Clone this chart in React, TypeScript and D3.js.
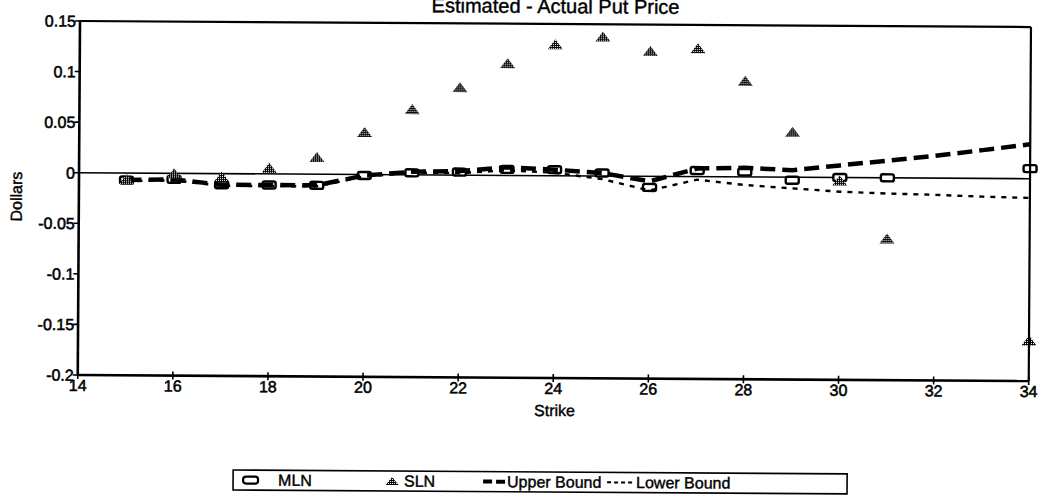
import React from "react";
import * as d3 from "d3";

// ---- Data ----
const boundStrikes = [15, 16, 17, 18, 19, 20, 21, 22, 23, 24, 25, 26, 27, 28, 29, 30, 31, 32, 33, 34];
const upperBound = [-0.007, -0.006, -0.011, -0.011, -0.011, -0.001, 0.003, 0.004, 0.008, 0.006, 0.003, -0.005, 0.008, 0.009, 0.007, 0.012, 0.017, 0.022, 0.028, 0.034];
const lowerBound = [-0.008, -0.007, -0.012, -0.012, -0.012, -0.002, 0.002, 0.002, 0.005, 0.003, -0.003, -0.014, -0.003, -0.008, -0.011, -0.014, -0.0155, -0.0165, -0.018, -0.019];

const pointStrikes = [15, 16, 17, 18, 19, 20, 21, 22, 23, 24, 25, 26, 27, 28, 29, 30, 31, 34];
const mlnValues = [-0.007, -0.006, -0.011, -0.011, -0.011, -0.001, 0.002, 0.003, 0.006, 0.006, 0.003, -0.011, 0.006, 0.005, -0.003, 0.0, 0.0, 0.010];
const slnValues = [-0.006, 0.0, -0.003, 0.006, 0.017, 0.042, 0.065, 0.087, 0.111, 0.13, 0.138, 0.124, 0.127, 0.095, 0.045, -0.003, -0.06, -0.16];

const yTicks = [0.15, 0.1, 0.05, 0, -0.05, -0.1, -0.15, -0.2];
const yTickLabels = ["0.15", "0.1", "0.05", "0", "-0.05", "-0.1", "-0.15", "-0.2"];
const xTicks = [14, 16, 18, 20, 22, 24, 26, 28, 30, 32, 34];

const title = "Estimated - Actual Put Price";
const xTitle = "Strike";
const yTitle = "Dollars";
const legendLabels = ["MLN", "SLN", "Upper Bound", "Lower Bound"];

const W = 1057;
const H = 504;
const FONT = "'Liberation Sans', Arial, Helvetica, sans-serif";

export default function App() {
  const left = 80, right = 1031, top = 21, bottom = 375;
  const x = d3.scaleLinear().domain([14, 34]).range([left, right]);
  const y = d3.scaleLinear().domain([-0.2, 0.15]).range([bottom, top]);

  const line = d3
    .line<[number, number]>()
    .x((d) => x(d[0]))
    .y((d) => y(d[1]));

  const upperPts = boundStrikes.map((s, i) => [s, upperBound[i]] as [number, number]);
  const lowerPts = boundStrikes.map((s, i) => [s, lowerBound[i]] as [number, number]);

  const triPath = (cx: number, cy: number, w = 15, h = 10) =>
    `M${cx - w / 2},${cy + h / 2} L${cx},${cy - h / 2} L${cx + w / 2},${cy + h / 2} Z`;

  const textStyle = { fontFamily: FONT, fill: "#000", stroke: "#000", strokeWidth: 0.55 } as const;
  const legStyle = { fontFamily: FONT, fill: "#000", stroke: "#000", strokeWidth: 0.4 } as const;

  const legY = 479;

  return (
    <svg
      width={W}
      height={H}
      viewBox={`0 0 ${W} ${H}`}
      style={{ position: "absolute", left: 0, top: 0, background: "#fff" }}
    >
      <defs>
        <pattern id="dither" patternUnits="userSpaceOnUse" width="2" height="2">
          <rect x="0" y="0" width="2" height="2" fill="#000" />
          <rect x="1" y="1" width="1" height="1" fill="#fff" />
        </pattern>
      </defs>
      <rect x={0} y={0} width={W} height={H} fill="#fff" />
      <g transform="rotate(0.363 80 20)">
        {/* Title */}
        <text x={(left + right) / 2} y={10} textAnchor="middle" fontSize={20} style={legStyle}>
          {title}
        </text>

        {/* Zero line */}
        <line x1={left} x2={right} y1={y(0)} y2={y(0)} stroke="#000" strokeWidth={1.6} />

        {/* MLN markers */}
        {pointStrikes.map((s, i) => (
          <rect
            key={"mln" + i}
            x={x(s) - 6.5}
            y={y(mlnValues[i]) - 3.5}
            width={13}
            height={7}
            rx={2}
            fill="#fff"
            stroke="#000"
            strokeWidth={2.4}
          />
        ))}

        {/* Upper bound */}
        <path
          d={line(upperPts) || ""}
          fill="none"
          stroke="#000"
          strokeWidth={4.5}
          strokeDasharray="15,7"
        />
        {/* Lower bound */}
        <path
          d={line(lowerPts) || ""}
          fill="none"
          stroke="#000"
          strokeWidth={2.4}
          strokeDasharray="5,6"
        />

        {/* SLN markers */}
        {pointStrikes.map((s, i) => (
          <path key={"sln" + i} d={triPath(x(s), y(slnValues[i]))} fill="url(#dither)" />
        ))}

        {/* Frame */}
        <line x1={left} x2={right} y1={top} y2={top} stroke="#000" strokeWidth={2.2} />
        <line x1={right} x2={right} y1={top} y2={bottom} stroke="#000" strokeWidth={2.2} />
        <line x1={left} x2={left} y1={top - 1} y2={bottom + 1} stroke="#000" strokeWidth={2.6} />
        <line x1={left} x2={right} y1={bottom} y2={bottom} stroke="#000" strokeWidth={2.6} />

        {/* Y ticks */}
        {yTicks.map((t, i) => (
          <g key={"yt" + i}>
            <line x1={left - 5} x2={left} y1={y(t)} y2={y(t)} stroke="#000" strokeWidth={1.6} />
            <text
              x={left - 4}
              y={y(t)}
              dy="0.36em"
              textAnchor="end"
              fontSize={16}
              style={textStyle}
            >
              {yTickLabels[i]}
            </text>
          </g>
        ))}

        {/* X ticks */}
        {xTicks.map((t) => (
          <g key={"xt" + t}>
            <line x1={x(t)} x2={x(t)} y1={bottom - 4} y2={bottom + 4} stroke="#000" strokeWidth={1.6} />
            <text x={x(t)} y={bottom + 16} textAnchor="middle" fontSize={16} style={textStyle}>
              {t}
            </text>
          </g>
        ))}

        {/* Axis titles */}
        <text x={557} y={413} textAnchor="middle" fontSize={16} style={legStyle}>
          {xTitle}
        </text>
        <text
          transform={`translate(23,197) rotate(-90)`}
          textAnchor="middle"
          fontSize={16}
          style={legStyle}
        >
          {yTitle}
        </text>

        {/* Legend */}
        <rect x={236} y={469} width={614} height={20} fill="#fff" stroke="#000" strokeWidth={1.6} />
        <rect x={246} y={legY - 3.5} width={15} height={7} rx={3} fill="#fff" stroke="#000" strokeWidth={2.2} />
        <text x={281} y={legY + 5.5} fontSize={16} style={legStyle}>
          {legendLabels[0]}
        </text>
        <path d={triPath(395, legY, 13, 8)} fill="url(#dither)" />
        <text x={407} y={legY + 5.5} fontSize={16} style={legStyle}>
          {legendLabels[1]}
        </text>
        <line x1={486} x2={508} y1={legY} y2={legY} stroke="#000" strokeWidth={4} strokeDasharray="9,4" />
        <text x={510} y={legY + 5.5} fontSize={16} style={legStyle}>
          {legendLabels[2]}
        </text>
        <line x1={610} x2={635} y1={legY} y2={legY} stroke="#000" strokeWidth={2} strokeDasharray="4,3" />
        <text x={639} y={legY + 5.5} fontSize={16} style={legStyle}>
          {legendLabels[3]}
        </text>
      </g>
    </svg>
  );
}
